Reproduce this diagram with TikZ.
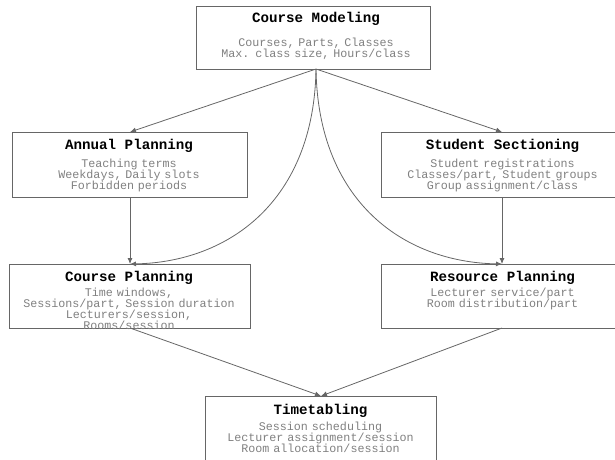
\documentclass[tikz,border=0pt]{standalone}
\usepackage{fontspec}
\setmonofont{Liberation Mono}
\usetikzlibrary{arrows.meta}
\definecolor{edgecol}{HTML}{666666}
\definecolor{bodytxt}{HTML}{808080}
\begin{document}
\begin{tikzpicture}[x=1pt,y=1pt,
  box/.style={draw=edgecol, line width=0.8pt, rectangle, inner sep=0pt, outer sep=0pt},
  ttl/.style={font=\fontsize{14.2}{16}\selectfont\ttfamily\bfseries, anchor=base, inner sep=0pt},
  bdy/.style={font=\fontsize{11.7}{11}\selectfont\ttfamily, text=bodytxt, anchor=base, inner sep=0pt, align=center, text width=250pt},
  arr/.style={draw=edgecol, line width=0.8pt, -{Latex[length=6pt,width=5pt]}}]
\useasboundingbox (0,0) rectangle (615,-459);
% boxes
\node[box, minimum width=234pt, minimum height=63pt] (cm) at (313,-37.5) {};
\node[box, minimum width=235pt, minimum height=65pt] (ap) at (130,-164.5) {};
\node[box, minimum width=241pt, minimum height=65pt] (ss) at (502,-164.5) {};
\node[box, minimum width=241pt, minimum height=64pt] (cp) at (130,-296) {};
\node[box, minimum width=241pt, minimum height=64pt] (rp) at (502,-296) {};
\node[box, minimum width=231pt, minimum height=84pt] (tt) at (321,-438) {};
% texts
\node[ttl] (cmt) at (316,-22) {Course Modeling};
\node[bdy] (cmb) at (316,-46.5) {Courses, Parts, Classes\\Max. class size, Hours/class};
\node[ttl] (apt) at (129,-149) {Annual Planning};
\node[bdy] (apb) at (129,-167.5) {Teaching terms\\Weekdays, Daily slots\\Forbidden periods};
\node[ttl] (sst) at (502.5,-149) {Student Sectioning};
\node[bdy] (ssb) at (502.5,-167.5) {Student registrations\\Classes/part, Student groups\\Group assignment/class};
\node[ttl] (cpt) at (129,-281) {Course Planning};
\node[bdy] (cpb) at (129,-296.5) {Time windows,\\Sessions/part, Session duration\\Lecturers/session,\\Rooms/session};
\node[ttl] (rpt) at (502.5,-281) {Resource Planning};
\node[bdy] (rpb) at (502.5,-296.5) {Lecturer service/part\\Room distribution/part};
\node[ttl] (ttt) at (320.5,-414) {Timetabling};
\node[bdy] (ttb) at (320.5,-430.5) {Session scheduling\\Lecturer assignment/session\\Room allocation/session};
% connectors
\coordinate (hub) at (316,-69);
\draw[arr] (hub) -- (ap.north);
\draw[arr] (hub) -- (ss.north);
\draw[arr] (hub) .. controls (314,-200) and (230,-262) .. (cp.north);
\draw[arr] (hub) .. controls (318,-200) and (402,-262) .. (rp.north);
\draw[arr] (ap.south) -- (cp.north);
\draw[arr] (ss.south) -- (rp.north);
\draw[arr] (cp.south) -- (tt.north);
\draw[arr] (rp.south) -- (tt.north);
\end{tikzpicture}
\end{document}
